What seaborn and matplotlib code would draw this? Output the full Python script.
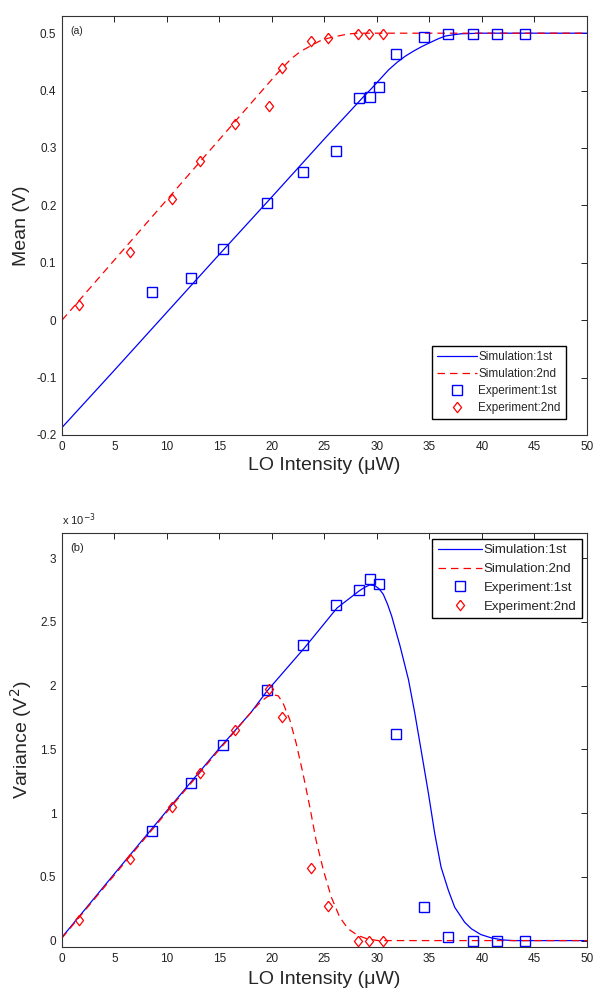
import matplotlib
matplotlib.use('Agg')
import matplotlib.pyplot as plt
import matplotlib.ticker as mticker
import seaborn as sns

# LO intensity of the measured points (uW), same for both panels
exp1_x = [8.6, 12.3, 15.3, 19.5, 23.0, 26.1, 28.3, 29.35, 30.2, 31.8, 34.45, 36.8, 39.1, 41.4, 44.1]
exp2_x = [1.64, 6.44, 10.44, 13.16, 16.46, 19.7, 20.97, 23.7, 25.3, 28.2, 29.26, 30.6]

# (a) mean, V
exp1_mean = [0.049, 0.074, 0.124, 0.204, 0.259, 0.295, 0.387, 0.389, 0.407, 0.464, 0.494, 0.498, 0.498, 0.498, 0.498]
exp2_mean = [0.026, 0.118, 0.211, 0.277, 0.342, 0.373, 0.439, 0.486, 0.492, 0.498, 0.498, 0.498]

sim1_mean_x = [0, 5, 10, 15, 20, 25, 28.7, 29.5, 30.3, 31.1, 31.9, 32.7, 33.5, 34.3, 35.1, 35.8, 36.5, 37.2, 38, 40, 50]
sim1_mean = [-0.187, -0.087, 0.014, 0.115, 0.215, 0.316, 0.389, 0.404, 0.42, 0.436, 0.449, 0.46, 0.469, 0.477, 0.484, 0.49, 0.495, 0.497, 0.499, 0.5, 0.5]
sim2_mean_x = [0, 5, 10, 15, 19.2, 20.5, 21.8, 22.7, 23.7, 24.5, 25.3, 26.0, 26.8, 27.5, 28.2, 50]
sim2_mean = [0, 0.105, 0.21, 0.315, 0.403, 0.43, 0.455, 0.468, 0.478, 0.486, 0.491, 0.494, 0.497, 0.499, 0.5, 0.5]

# (b) variance, x 1e-3 V^2
exp1_var = [0.861, 1.234, 1.538, 1.963, 2.318, 2.63, 2.748, 2.835, 2.798, 1.622, 0.262, 0.031, 0.0, 0.0, 0.0]
exp2_var = [0.163, 0.643, 1.05, 1.312, 1.652, 1.974, 1.751, 0.57, 0.27, 0.0, 0.0, 0.0]

sim1_var_x = [0, 5, 10, 15, 18, 19.5, 23.1, 26.2, 28.3, 28.8, 29.3, 29.8, 30.2, 30.6, 31.0, 31.4, 32.2, 33.0, 33.6,
              34.2, 34.9, 35.5, 36.1, 36.8, 37.4, 38.35, 39.0, 39.9, 40.9, 42, 43, 50]
sim1_var = [0.026, 0.525, 1.02, 1.51, 1.79, 1.955, 2.297, 2.61, 2.743, 2.77, 2.79, 2.785, 2.76, 2.717, 2.64, 2.546,
            2.31, 2.047, 1.785, 1.496, 1.155, 0.84, 0.577, 0.394, 0.262, 0.144, 0.092, 0.047, 0.021, 0.005, 0, 0]
sim2_var_x = [0, 5, 10, 15, 18, 19, 19.6, 20.1, 20.6, 21.05, 21.7, 22.3, 22.95, 23.6, 24.2, 24.9, 25.65, 26.45,
              27.25, 28.2, 29.1, 30.1, 50]
sim2_var = [0.02, 0.515, 1.01, 1.5, 1.79, 1.88, 1.915, 1.929, 1.92, 1.864, 1.732, 1.549, 1.312, 1.05, 0.787, 0.551,
            0.341, 0.184, 0.092, 0.039, 0.013, 0, 0]

labels = ['Simulation:1st', 'Simulation:2nd', 'Experiment:1st', 'Experiment:2nd']
blue = '#0000ff'
red = '#ff0000'
diamond = [(0, 1), (0.78, 0), (0, -1), (-0.78, 0), (0, 1)]

sns.set_style('white')
plt.rcParams['font.family'] = ['Liberation Sans', 'DejaVu Sans']

fig = plt.figure(figsize=(6.0, 9.92), dpi=100)
ax1 = fig.add_axes([0.1033, 0.5615, 0.875, 0.4224])
ax2 = fig.add_axes([0.1033, 0.0454, 0.875, 0.4176])


def draw(ax, s1x, s1y, s2x, s2y, e1y, e2y):
    sns.lineplot(x=s1x, y=s1y, ax=ax, color=blue, linewidth=0.9, label=labels[0])
    sns.lineplot(x=s2x, y=s2y, ax=ax, color=red, linewidth=0.9, dashes=False, label=labels[1],
                 linestyle=(0, (6, 4)))
    sns.lineplot(x=exp1_x, y=e1y, ax=ax, linestyle='', marker='s', markersize=6.8,
                 markerfacecolor='none', markeredgecolor=blue, markeredgewidth=1.0, label=labels[2])
    sns.lineplot(x=exp2_x, y=e2y, ax=ax, linestyle='', marker=diamond, markersize=7.5,
                 markerfacecolor='none', markeredgecolor=red, markeredgewidth=0.9, label=labels[3])
    ax.set_xlim(0, 50)
    ax.set_xticks(range(0, 51, 5))
    ax.yaxis.set_major_formatter(mticker.FuncFormatter(lambda v, p: '%g' % round(v, 3)))
    ax.tick_params(direction='in', top=True, right=True, length=4, width=0.7, labelsize=8.5,
                   colors='#222222', pad=4)
    for s in ax.spines.values():
        s.set_color('#333333')
        s.set_linewidth(0.8)


draw(ax1, sim1_mean_x, sim1_mean, sim2_mean_x, sim2_mean, exp1_mean, exp2_mean)
ax1.set_ylim(-0.2, 0.53)
ax1.set_yticks([-0.2, -0.1, 0, 0.1, 0.2, 0.3, 0.4, 0.5])
ax1.set_xlabel('LO Intensity (\u03bcW)', fontsize=14, labelpad=3)
ax1.set_ylabel('Mean (V)', fontsize=14, labelpad=4)
ax1.text(0.016, 0.975, '(a)', transform=ax1.transAxes, fontsize=7.5, va='top')
h, l = ax1.get_legend_handles_labels()
ax1.legend(h, l, loc='lower right', bbox_to_anchor=(0.96, 0.038), borderaxespad=0, fontsize=8.5,
           frameon=True, fancybox=False, edgecolor='black', framealpha=1, handlelength=3.4,
           labelspacing=0.42, borderpad=0.45, handletextpad=0.1)

draw(ax2, sim1_var_x, sim1_var, sim2_var_x, sim2_var, exp1_var, exp2_var)
ax2.set_ylim(-0.05, 3.2)
ax2.set_yticks([0, 0.5, 1, 1.5, 2, 2.5, 3])
ax2.set_xlabel('LO Intensity (\u03bcW)', fontsize=14, labelpad=5)
ax2.set_ylabel('Variance (V$^2$)', fontsize=14, labelpad=4)
ax2.text(0.016, 0.975, '(b)', transform=ax2.transAxes, fontsize=8, va='top')
ax2.text(0.0, 1.012, 'x 10$^{-3}$', transform=ax2.transAxes, fontsize=8, va='bottom', color='#222222')
h, l = ax2.get_legend_handles_labels()
ax2.legend(h, l, loc='upper right', bbox_to_anchor=(0.99, 0.985), borderaxespad=0, fontsize=9.5,
           frameon=True, fancybox=False, edgecolor='black', framealpha=1, handlelength=3.4,
           labelspacing=0.5, borderpad=0.4, handletextpad=0.1)

fig.savefig('out.png', dpi=100)
